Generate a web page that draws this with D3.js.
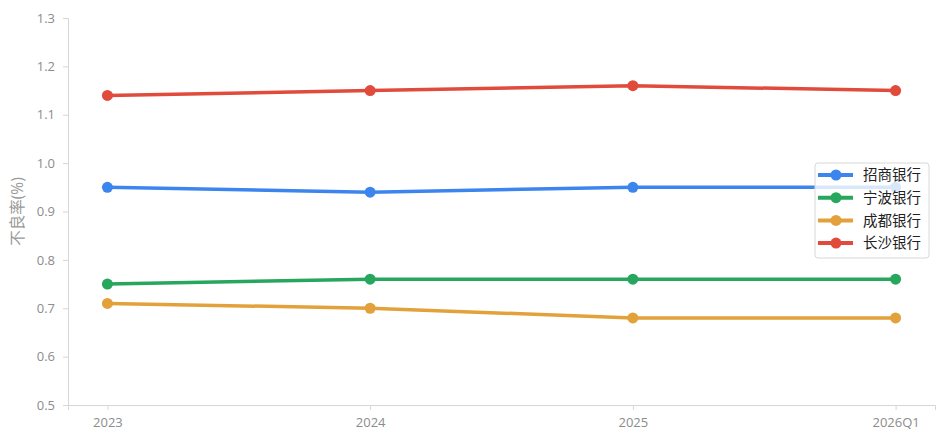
<!DOCTYPE html>
<html><head><meta charset="utf-8">
<script src="https://cdn.jsdelivr.net/npm/d3@7"></script>
<style>body{margin:0;background:#fff}svg{display:block}</style>
</head><body>
<svg id="c" width="947" height="444"></svg>
<script>
const categories = ["2023","2024","2025","2026Q1"];
const seriesNames = ["招商银行","宁波银行","成都银行","长沙银行"];
const cmb = [0.95,0.94,0.95,0.95];
const nbb = [0.75,0.76,0.76,0.76];
const cdb = [0.71,0.70,0.68,0.68];
const csb = [1.14,1.15,1.16,1.15];
const yTicks = [0.5,0.6,0.7,0.8,0.9,1.0,1.1,1.2,1.3];
const colors = ["#3d85ee","#27a65d","#e3a13b","#e04b3c"];
const series = [cmb,nbb,cdb,csb];

const svg = d3.select("#c");
const mLeft = 68, mRight = 935, mTop = 18, mBottom = 405;
const x = d3.scalePoint().domain(categories).range([mLeft, mRight]).padding(0.15);
const y = d3.scaleLinear().domain([0.5,1.3]).range([mBottom, mTop]);
const font = "'Open Sans','Noto Sans CJK SC',sans-serif";

const yAxis = svg.append("g").attr("transform",`translate(${mLeft},0)`)
  .call(d3.axisLeft(y).tickValues(yTicks).tickFormat(d3.format(".1f")).tickSizeOuter(0).tickSize(5).tickPadding(8));
const xAxis = svg.append("g").attr("transform",`translate(0,${mBottom})`)
  .call(d3.axisBottom(x).tickSizeOuter(0).tickSize(5).tickPadding(8));
[yAxis,xAxis].forEach(g=>{
  g.selectAll("path,line").attr("stroke","#d6d6d6");
  g.selectAll("text").attr("fill","#8c8c8c").style("font-family",font).style("font-size","13px");
});

svg.append("text").attr("transform",`translate(23,${(mTop+mBottom)/2}) rotate(-90)`)
  .attr("text-anchor","middle").attr("fill","#999").style("font-family",font).style("font-size","15.5px").text("不良率(%)");

const line = d3.line().x((d,i)=>x(categories[i])).y(d=>y(d));
series.forEach((s,k)=>{
  svg.append("path").datum(s).attr("d",line).attr("fill","none").attr("stroke",colors[k]).attr("stroke-width",3.5);
  svg.selectAll(null).data(s).enter().append("circle")
    .attr("cx",(d,i)=>x(categories[i])).attr("cy",d=>y(d)).attr("r",5.5).attr("fill",colors[k]);
});

const lg = svg.append("g").attr("transform","translate(815,163)");
lg.append("rect").attr("width",114).attr("height",95).attr("rx",3)
  .attr("fill","rgba(255,255,255,0.8)").attr("stroke","#d8d8d8").attr("stroke-width",1);
seriesNames.forEach((n,k)=>{
  const yy = 12 + k*22.7;
  lg.append("line").attr("x1",3).attr("x2",38).attr("y1",yy).attr("y2",yy).attr("stroke",colors[k]).attr("stroke-width",4);
  lg.append("circle").attr("cx",21).attr("cy",yy).attr("r",5.5).attr("fill",colors[k]);
  lg.append("text").attr("x",48).attr("y",yy).attr("dy","0.36em").attr("fill","#222")
    .style("font-family",font).style("font-size","14.5px").text(n);
});
</script>
</body></html>
